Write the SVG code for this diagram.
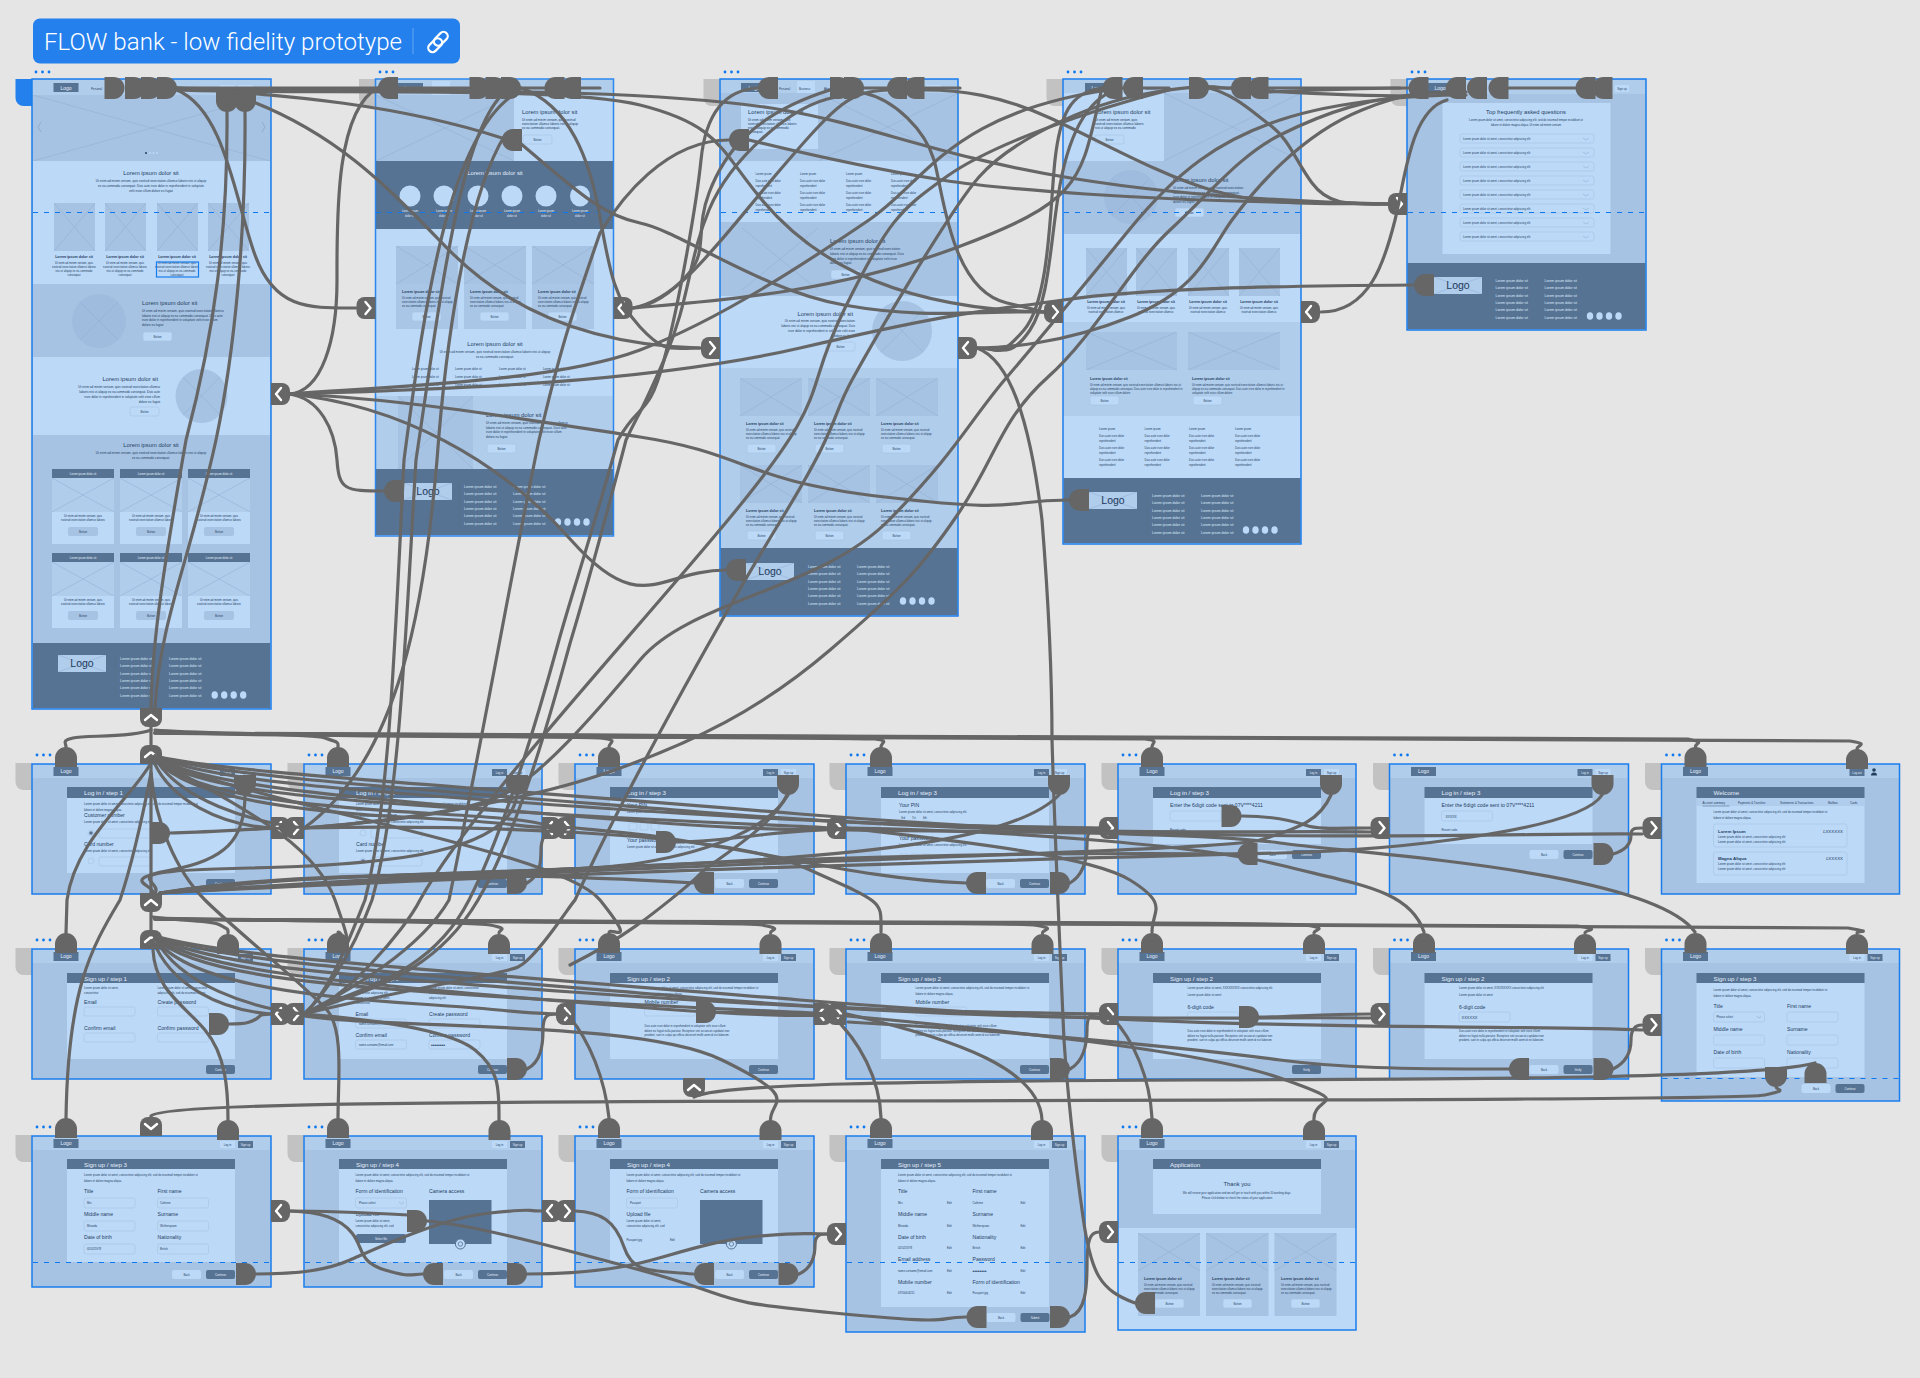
<svg xmlns="http://www.w3.org/2000/svg" width="1920" height="1378" viewBox="0 0 1920 1378">
<style>
text{font-family:"Liberation Sans",Arial,sans-serif;fill:#24405f;font-size:3.1px}
.lt{fill:#bcd9f8}.md{fill:#a7c3e3}.st{fill:#b0cdec}.dk{fill:#577394}.gt{fill:#c2c2c2}
.bd{fill:none;stroke:#1a7ded;stroke-width:1.5}
.ds{fill:none;stroke:#0d78f0;stroke-width:1.2;stroke-dasharray:5 6}
.in{fill:#bcd9f8;stroke:#a7c3e3;stroke-width:.6}
.x{fill:none;stroke:#8fadd0;stroke-width:.5}
.h{font-size:5.8px}.h3{font-size:3.6px;font-weight:bold}.f{font-size:3.4px;fill:#dcebfb}.l{font-size:5.1px}.ti{font-size:6.2px;fill:#e3effc}
.w{fill:#e3effc}.s{font-size:2.8px}.lg{font-size:5px;fill:#e3effc}.lb{font-size:10.5px;fill:#1f3a5c}
.m{text-anchor:middle}.e{text-anchor:end}
.dot{fill:#0d78f0}.ci{fill:#bcd9f8}
.c{fill:none;stroke:#666;stroke-width:3.2;stroke-linecap:round}
.p{fill:#666}.ch{fill:none;stroke:#fff;stroke-width:2.4;stroke-linecap:round;stroke-linejoin:round}
</style>
<defs>
<symbol id="ph" viewBox="0 0 100 100" preserveAspectRatio="none"><rect width="100" height="100" fill="#a7c3e3"/><path d="M0 0L100 100M100 0L0 100" class="x" vector-effect="non-scaling-stroke"/></symbol>
<symbol id="phl" viewBox="0 0 100 100" preserveAspectRatio="none"><rect width="100" height="100" fill="#b0cdec"/><path d="M0 0L100 100M100 0L0 100" class="x" vector-effect="non-scaling-stroke"/></symbol>
<g id="dots"><circle cx="3" r="1.4" class="dot"/><circle cx="9.500" r="1.4" class="dot"/><circle cx="16" r="1.4" class="dot"/></g>
<path id="gtab" d="M0 0H-16.500V19a8 8 0 0 0 8 8H0z" class="gt"/>
<g id="btn"><rect width="29" height="9" rx="2" class="in"/><text x="14.500" y="5.800" class="s m">Button</text></g>
<g id="btd"><rect width="30" height="9" rx="2" fill="#a7c3e3"/><text x="15" y="5.800" class="s m">Button</text></g>
<g id="back"><rect width="29" height="9" rx="2" class="lt"/><text x="14.500" y="5.800" class="s m">Back</text></g>
<g id="cont"><rect width="29" height="9" rx="2" class="dk"/><text x="14.500" y="5.800" class="s m w">Continue</text></g>
<g id="verify"><rect width="29" height="9" rx="2" class="dk"/><text x="14.500" y="5.800" class="s m w">Verify</text></g>
<g id="submit"><rect width="29" height="9" rx="2" class="dk"/><text x="14.500" y="5.800" class="s m w">Submit</text></g>
<g id="bar"><rect width="238" height="14" class="st"/><rect x="21.500" y="3" width="25" height="9" class="dk"/><text x="34" y="9.300" class="lg m">Logo</text></g>
<g id="logDk"><rect x="188" y="5" width="15" height="7" class="dk"/><text x="195.500" y="9.500" class="s m w">Log in</text><rect x="206" y="5" width="15" height="7" class="lt"/><text x="213.500" y="9.500" class="s m">Sign up</text></g>
<g id="sigDk"><rect x="188" y="5" width="15" height="7" class="lt"/><text x="195.500" y="9.500" class="s m">Log in</text><rect x="206" y="5" width="15" height="7" class="dk"/><text x="213.500" y="9.500" class="s m w">Sign up</text></g>
<g id="foot"><text class="f" y="0">Lorem ipsum dolor sit</text><text class="f" y="7.300">Lorem ipsum dolor sit</text><text class="f" y="14.600">Lorem ipsum dolor sit</text><text class="f" y="21.900">Lorem ipsum dolor sit</text><text class="f" y="29.200">Lorem ipsum dolor sit</text><text class="f" y="36.500">Lorem ipsum dolor sit</text><text class="f" x="49" y="0">Lorem ipsum dolor sit</text><text class="f" x="49" y="7.300">Lorem ipsum dolor sit</text><text class="f" x="49" y="14.600">Lorem ipsum dolor sit</text><text class="f" x="49" y="21.900">Lorem ipsum dolor sit</text><text class="f" x="49" y="29.200">Lorem ipsum dolor sit</text><text class="f" x="49" y="36.500">Lorem ipsum dolor sit</text></g>
<g id="soc"><ellipse cx="0" rx="3.200" ry="3.800" class="ci"/><ellipse cx="9.500" rx="3.200" ry="3.800" class="ci"/><ellipse cx="19" rx="3.200" ry="3.800" class="ci"/><ellipse cx="28.500" rx="3.200" ry="3.800" class="ci"/></g>
<g id="logoB"><use href="#phl" width="48" height="17"/><text x="24" y="12.300" class="lb m">Logo</text></g>
<g id="col"><text class="s" font-size="3.400" y="0">Lorem ipsum</text><text class="s" y="7">Duis aute irure dolor</text><text class="s" y="11.500">reprehenderit</text><text class="s" y="19">Duis aute irure dolor</text><text class="s" y="23.500">reprehenderit</text><text class="s" y="31">Duis aute irure dolor</text><text class="s" y="35.500">reprehenderit</text></g>
<g id="smcard"><text class="h3" y="0">Lorem ipsum dolor sit</text><text class="s" y="6">Ut enim ad minim veniam, quis nostrud</text><text class="s" y="10">exercitation ullamco laboris nisi ut aliquip</text><text class="s" y="14">ex ea commodo consequat.</text></g>
<g id="card"><rect width="62" height="75" class="lt"/><rect width="62" height="9" class="dk"/><text x="31" y="6" class="s m w">Lorem ipsum dolor sit</text><use href="#phl" y="9" width="62" height="34"/><text x="31" y="48" class="s m">Ut enim ad minim veniam, quis</text><text x="31" y="52" class="s m">nostrud exercitation ullamco laboris</text><use href="#btd" x="16" y="58"/></g>
<g id="long2"><text class="s" y="0">Lorem ipsum dolor sit amet, consectetur adipiscing elit, sed do eiusmod tempor incididunt ut</text><text class="s" y="5.500">labore et dolore magna aliqua.</text></g>
<g id="r"><path d="M0-11H9a11 11 0 0 1 0 22H0z" class="p"/></g>
<g id="l"><path d="M0-11H-9a11 11 0 0 0 0 22H0z" class="p"/></g>
<g id="u"><path d="M-11 0V-9a11 11 0 0 1 22 0V0z" class="p"/></g>
<g id="d"><path d="M-11 0V9a11 11 0 0 0 22 0V0z" class="p"/></g>
<g id="tr"><path d="M0-11H-11a8 8 0 0 0-8 8V3a8 8 0 0 0 8 8H0z" class="p"/><path d="M-10-6l5 6-5 6" class="ch"/></g>
<g id="tl"><path d="M0-11H11a8 8 0 0 1 8 8V3a8 8 0 0 1-8 8H0z" class="p"/><path d="M10-6l-5 6 5 6" class="ch"/></g>
<g id="tbu"><path d="M-11 0H11V11a8 8 0 0 1-8 8H-3a8 8 0 0 1-8-8z" class="p"/><path d="M-6 12l6-5 6 5" class="ch"/></g>
<g id="tuu"><path d="M-11 0H11V-11a8 8 0 0 0-8-8H-3a8 8 0 0 0-8 8z" class="p"/><path d="M-6-7l6-5 6 5" class="ch"/></g>
<g id="tud"><path d="M-11 0H11V-11a8 8 0 0 0-8-8H-3a8 8 0 0 0-8 8z" class="p"/><path d="M-6-12l6 5 6-5" class="ch"/></g>
</defs>
<rect width="1920" height="1378" fill="#e5e5e5"/>
<g id="title"><rect x="33" y="18.500" width="427" height="45" rx="7" fill="#2480ec"/><text x="44" y="50" style="font-family:Roboto,sans-serif;font-size:23px;fill:#fff;font-weight:300" textLength="358" lengthAdjust="spacingAndGlyphs">FLOW bank - low fidelity prototype</text><path d="M413 28V54" stroke="#fff" stroke-opacity=".3"/><g fill="none" stroke="#fff" stroke-width="2.200"><rect x="427" y="41" width="16" height="8.500" rx="4.200" transform="rotate(-45 435 45)"/><rect x="433" y="34.500" width="16" height="8.500" rx="4.200" transform="rotate(-45 441 39)"/></g></g>

<g id="n-home"><path d="M32 79H15.500V98a8 8 0 0 0 8 8H32z" fill="#2480ec"/><use href="#dots" x="33" y="72"/>
<rect x="32" y="79" width="239" height="630" class="md"/><rect x="32" y="80" width="239" height="15" class="st"/><rect x="53.500" y="83" width="25" height="9" class="dk"/><text x="66" y="89.500" class="lg m">Logo</text><text x="91" y="90" class="s">Personal</text><rect x="220" y="85" width="15" height="7" class="lt"/><rect x="238" y="85" width="15" height="7" class="lt"/>
<use href="#ph" x="33" y="95" width="237" height="66"/><path d="M41 122l-3 5 3 5M262 122l3 5-3 5" fill="none" stroke="#8fadd0"/><circle cx="146" cy="153" r="1" fill="#24405f"/><circle cx="150" cy="153" r="1" class="ci"/><circle cx="153.500" cy="153" r="1" class="ci"/><circle cx="157" cy="153" r="1" class="ci"/>
<rect x="33" y="161" width="237" height="123" class="lt"/><text x="151" y="175" class="h m">Lorem ipsum dolor sit</text><text x="151" y="182" class="m">Ut enim ad minim veniam, quis nostrud exercitation ullamco laboris nisi ut aliquip</text><text x="151" y="186.500" class="m">ex ea commodo consequat. Duis aute irure dolor in reprehenderit in voluptate</text><text x="151" y="192" class="m">velit esse cillum dolore eu fugiat</text>
<use href="#ph" x="54" y="203" width="41" height="48"/><use href="#ph" x="105" y="203" width="41" height="48"/><use href="#ph" x="157" y="203" width="41" height="48"/><use href="#ph" x="208" y="203" width="41" height="48"/>
<text x="74" y="258" class="h3 m">Lorem ipsum dolor sit</text><text x="125" y="258" class="h3 m">Lorem ipsum dolor sit</text><text x="177" y="258" class="h3 m">Lorem ipsum dolor sit</text><text x="228" y="258" class="h3 m">Lorem ipsum dolor sit</text>
<text x="74" y="264" class="s m">Ut enim ad minim veniam, quis</text><text x="74" y="268" class="s m">nostrud exercitation ullamco laboris</text><text x="74" y="272" class="s m">nisi ut aliquip ex ea commodo</text><text x="74" y="276" class="s m">consequat</text>
<text x="125" y="264" class="s m">Ut enim ad minim veniam, quis</text><text x="125" y="268" class="s m">nostrud exercitation ullamco laboris</text><text x="125" y="272" class="s m">nisi ut aliquip ex ea commodo</text><text x="125" y="276" class="s m">consequat</text>
<text x="177" y="264" class="s m">Ut enim ad minim veniam, quis</text><text x="177" y="268" class="s m">nostrud exercitation ullamco laboris</text><text x="177" y="272" class="s m">nisi ut aliquip ex ea commodo</text><text x="177" y="276" class="s m">consequat</text>
<text x="228" y="264" class="s m">Ut enim ad minim veniam, quis</text><text x="228" y="268" class="s m">nostrud exercitation ullamco laboris</text><text x="228" y="272" class="s m">nisi ut aliquip ex ea commodo</text><text x="228" y="276" class="s m">consequat</text>
<rect x="156.500" y="262" width="42" height="15" fill="none" stroke="#1a7ded" stroke-width="1.200"/>
<rect x="33" y="284" width="237" height="73" class="md"/><ellipse cx="99" cy="321" rx="27" ry="27" fill="#9fbbdd"/><path d="M80 302L118 340M118 302L80 340" class="x"/><text x="142" y="305" class="h">Lorem ipsum dolor sit</text><text x="142" y="312">Ut enim ad minim veniam, quis nostrud exercitation ullamco</text><text x="142" y="316.500">laboris nisi ut aliquip ex ea commodo consequat. Duis aute</text><text x="142" y="321">irure dolor in reprehenderit in voluptate velit esse cillum</text><text x="142" y="326">dolore eu fugiat</text><use href="#btn" x="143" y="332"/>
<rect x="33" y="357" width="237" height="78" class="lt"/><text x="158" y="381" class="h e">Lorem ipsum dolor sit</text><text x="160" y="388" class="e">Ut enim ad minim veniam, quis nostrud exercitation ullamco</text><text x="160" y="393" class="e">laboris nisi ut aliquip ex ea commodo consequat. Duis aute</text><text x="160" y="398" class="e">irure dolor in reprehenderit in voluptate velit esse cillum</text><text x="160" y="403" class="e">dolore eu fugiat</text><use href="#btn" x="130" y="407"/><ellipse cx="201.500" cy="396" rx="26" ry="27" fill="#a7c3e3"/><path d="M183 377L220 415M220 377L183 415" class="x"/>
<text x="151" y="447" class="h m">Lorem ipsum dolor sit</text><text x="151" y="454" class="m">Ut enim ad minim veniam, quis nostrud exercitation ullamco laboris nisi ut aliquip</text><text x="151" y="459" class="m">ex ea commodo consequat.</text>
<use href="#card" x="52" y="469"/><use href="#card" x="120" y="469"/><use href="#card" x="188" y="469"/><use href="#card" x="52" y="553"/><use href="#card" x="120" y="553"/><use href="#card" x="188" y="553"/>
<rect x="33" y="643" width="237" height="65" class="dk"/><use href="#logoB" x="58" y="655"/><use href="#foot" x="120" y="660"/><use href="#soc" x="214.700" y="695"/>
<path d="M33 212.500H270" class="ds"/><rect x="32" y="79" width="239" height="630" class="bd"/></g>

<g id="n-personal"><use href="#gtab" x="375.500" y="79"/><use href="#dots" x="377" y="72"/><rect x="375.500" y="79" width="238" height="457" class="lt"/><rect x="376" y="80" width="237" height="15" class="st"/><rect x="398" y="83" width="25" height="9" class="dk"/><text x="410" y="89.500" class="lg m">Logo</text><rect x="432" y="81" width="18" height="14" class="lt"/><text x="434" y="90" class="s">Personal</text><text x="456" y="90" class="s">Business</text>
<use href="#ph" x="376" y="95" width="138" height="66"/><text x="522" y="114" class="h">Lorem ipsum dolor sit</text><text x="522" y="121">Ut enim ad minim veniam, quis nostrud</text><text x="522" y="125">exercitation ullamco laboris nisi ut aliquip</text><text x="522" y="129">ex ea commodo consequat.</text><use href="#btn" x="523" y="135"/>
<rect x="376" y="161" width="237" height="68" class="dk"/><text x="495" y="175" class="h m w">Lorem ipsum dolor sit</text>
<g class="ci"><ellipse cx="410" cy="196" rx="10.500" ry="10.500"/><ellipse cx="444" cy="196" rx="10.500" ry="10.500"/><ellipse cx="478" cy="196" rx="10.500" ry="10.500"/><ellipse cx="512" cy="196" rx="10.500" ry="10.500"/><ellipse cx="546" cy="196" rx="10.500" ry="10.500"/><ellipse cx="580" cy="196" rx="10" ry="10.500"/></g>
<text x="410" y="212" class="s m w">Lorem ipsum</text><text x="410" y="217" class="s m w">dolor sit</text><text x="444" y="212" class="s m w">Lorem ipsum</text><text x="444" y="217" class="s m w">dolor sit</text><text x="478" y="212" class="s m w">Lorem ipsum</text><text x="478" y="217" class="s m w">dolor sit</text><text x="512" y="212" class="s m w">Lorem ipsum</text><text x="512" y="217" class="s m w">dolor sit</text><text x="546" y="212" class="s m w">Lorem ipsum</text><text x="546" y="217" class="s m w">dolor sit</text><text x="580" y="212" class="s m w">Lorem ipsum</text><text x="580" y="217" class="s m w">dolor sit</text>
<rect x="396" y="246" width="62" height="83" class="md" opacity=".9"/><rect x="464" y="246" width="62" height="83" class="md" opacity=".9"/><rect x="532" y="246" width="62" height="83" class="md" opacity=".9"/><use href="#ph" x="396" y="246" width="62" height="38"/><use href="#ph" x="464" y="246" width="62" height="38"/><use href="#ph" x="532" y="246" width="62" height="38"/>
<use href="#smcard" x="402" y="293"/><use href="#smcard" x="470" y="293"/><use href="#smcard" x="538" y="293"/><use href="#btn" x="412" y="312"/><use href="#btn" x="480" y="312"/><use href="#btn" x="548" y="312"/>
<text x="495" y="346" class="h m">Lorem ipsum dolor sit</text><text x="495" y="353" class="m">Ut enim ad minim veniam, quis nostrud exercitation ullamco laboris nisi ut aliquip</text><text x="495" y="358" class="m">ex ea commodo consequat.</text>
<g><text x="412" y="370" class="s">Lorem ipsum dolor sit</text><text x="455" y="370" class="s">Lorem ipsum dolor sit</text><text x="499" y="370" class="s">Lorem ipsum dolor sit</text><text x="543" y="370" class="s">Lorem ipsum dolor sit</text><text x="412" y="378" class="s">Lorem ipsum dolor sit</text><text x="455" y="378" class="s">Lorem ipsum dolor sit</text><text x="499" y="378" class="s">Lorem ipsum dolor sit</text><text x="543" y="378" class="s">Lorem ipsum dolor sit</text><text x="412" y="386" class="s">Lorem ipsum dolor sit</text><text x="455" y="386" class="s">Lorem ipsum dolor sit</text><text x="499" y="386" class="s">Lorem ipsum dolor sit</text><text x="543" y="386" class="s">Lorem ipsum dolor sit</text></g>
<rect x="376" y="396" width="237" height="73" class="st"/><use href="#ph" x="398" y="396" width="75" height="73"/><text x="486" y="417" class="h">Lorem ipsum dolor sit</text><text x="486" y="424">Ut enim ad minim veniam, quis nostrud exercitation ullamco</text><text x="486" y="428.500">laboris nisi ut aliquip ex ea commodo consequat. Duis aute</text><text x="486" y="433">irure dolor in reprehenderit in voluptate velit esse cillum</text><text x="486" y="438">dolore eu fugiat</text><use href="#btn" x="487" y="444"/>
<rect x="376" y="469" width="237" height="66" class="dk"/><use href="#logoB" x="404" y="483"/><use href="#foot" x="464" y="488"/><use href="#soc" x="558" y="522"/>
<path d="M376 212.500H613" class="ds"/><rect x="375.500" y="79" width="238" height="457" class="bd" stroke-opacity=".9"/></g>

<g id="n-business"><use href="#gtab" x="720" y="79"/><use href="#dots" x="722" y="72"/><rect x="720" y="79" width="238" height="537" class="md"/><rect x="720" y="80" width="238" height="13" class="st"/><rect x="741" y="83" width="25" height="9" class="dk"/><text x="754" y="89.500" class="lg m">Logo</text><text x="779" y="90" class="s">Personal</text><rect x="797" y="81" width="18" height="12" class="lt"/><text x="799" y="90" class="s">Business</text><text x="824" y="90" class="s">About</text><rect x="926" y="85" width="15" height="7" class="lt"/><text x="933" y="90" class="s m">Sign up</text>
<use href="#ph" x="818" y="93" width="140" height="68"/><rect x="741" y="104" width="77" height="45" class="lt"/><text x="748" y="114" class="h">Lorem ipsum dolor sit</text><text x="748" y="121">Ut enim ad minim veniam, quis</text><text x="748" y="125">nostrud exercitation ullamco laboris</text><text x="748" y="129">nisi ut aliquip ex ea commodo</text><text x="748" y="133">consequat.</text>
<rect x="720.500" y="161" width="237" height="61" class="lt"/><use href="#col" x="755.500" y="175"/><use href="#col" x="800" y="175"/><use href="#col" x="846" y="175"/><use href="#col" x="891" y="175"/>
<use href="#ph" x="742" y="228" width="76" height="62"/><text x="830" y="243" class="h">Lorem ipsum dolor sit</text><text x="830" y="250">Ut enim ad minim veniam, quis nostrud exercitation</text><text x="830" y="255">laboris nisi ut aliquip ex ea commodo consequat. Duis</text><text x="830" y="260">irure dolor in reprehenderit in voluptate velit esse</text><text x="830" y="264">dolore eu fugiat</text><use href="#btn" x="831" y="270"/>
<rect x="720.500" y="296" width="237" height="72" class="lt"/><text x="853" y="316" class="h e">Lorem ipsum dolor sit</text><text x="855" y="322" class="e">Ut enim ad minim veniam, quis nostrud exercitation</text><text x="855" y="327" class="e">laboris nisi ut aliquip ex ea commodo consequat. Duis</text><text x="855" y="332" class="e">irure dolor in reprehenderit in voluptate velit esse</text><text x="855" y="337" class="e">dolore eu fugiat</text><use href="#btn" x="826" y="342"/><ellipse cx="902" cy="331" rx="30" ry="30" class="md"/><path d="M881 310L923 352M923 310L881 352" class="x"/>
<rect x="720.500" y="368" width="237" height="180" class="st"/><use href="#ph" x="740" y="378" width="62" height="38"/><use href="#ph" x="808" y="378" width="62" height="38"/><use href="#ph" x="876" y="378" width="62" height="38"/><use href="#smcard" x="746" y="425"/><use href="#smcard" x="814" y="425"/><use href="#smcard" x="881" y="425"/><use href="#btn" x="747" y="444"/><use href="#btn" x="815" y="444"/><use href="#btn" x="882" y="444"/>
<use href="#ph" x="740" y="465" width="62" height="38"/><use href="#ph" x="808" y="465" width="62" height="38"/><use href="#ph" x="876" y="465" width="62" height="38"/><use href="#smcard" x="746" y="512"/><use href="#smcard" x="814" y="512"/><use href="#smcard" x="881" y="512"/><use href="#btn" x="747" y="531"/><use href="#btn" x="815" y="531"/><use href="#btn" x="882" y="531"/>
<rect x="720.500" y="548" width="237" height="67" class="dk"/><use href="#logoB" x="746" y="563"/><use href="#foot" x="808" y="568"/><use href="#soc" x="903" y="601"/>
<path d="M721 212.500H957" class="ds"/><rect x="720" y="79" width="238" height="537" class="bd"/></g>

<g id="n-about"><use href="#gtab" x="1063" y="79"/><use href="#dots" x="1065" y="72"/><rect x="1063" y="79" width="238" height="465" class="lt"/><rect x="1063" y="80" width="238" height="13" class="st"/><rect x="1085" y="83" width="25" height="9" class="dk"/><text x="1097" y="89.500" class="lg m">Logo</text><text x="1146" y="90" class="s">Business</text><text x="1167" y="90" class="s">About</text><text x="1265" y="90" class="s">Sign up</text>
<use href="#ph" x="1164" y="93" width="137" height="68"/><text x="1095" y="114" class="h">Lorem ipsum dolor sit</text><text x="1095" y="121">Ut enim ad minim veniam, quis</text><text x="1095" y="125">nostrud exercitation ullamco laboris</text><text x="1095" y="129">nisi ut aliquip ex ea commodo</text><use href="#btn" x="1095" y="135"/>
<rect x="1063.500" y="161" width="237" height="73" class="md"/><ellipse cx="1131" cy="197" rx="27" ry="27" fill="#9fbbdd"/><path d="M1112 178L1150 216M1150 178L1112 216" class="x"/><text x="1173" y="182" class="h">Lorem ipsum dolor sit</text><text x="1173" y="189">Ut enim ad minim veniam, quis nostrud exercitation</text><text x="1173" y="194">laboris nisi ut aliquip ex ea commodo consequat.</text><text x="1173" y="198">irure dolor in reprehenderit in voluptate velit</text><text x="1173" y="203">dolore eu fugiat</text><use href="#btn" x="1175" y="208"/>
<use href="#ph" x="1086" y="248" width="41" height="48"/><use href="#ph" x="1136" y="248" width="41" height="48"/><use href="#ph" x="1188" y="248" width="41" height="48"/><use href="#ph" x="1239" y="248" width="41" height="48"/><text x="1106" y="303" class="h3 m">Lorem ipsum dolor sit</text><text x="1156" y="303" class="h3 m">Lorem ipsum dolor sit</text><text x="1208" y="303" class="h3 m">Lorem ipsum dolor sit</text><text x="1259" y="303" class="h3 m">Lorem ipsum dolor sit</text>
<text x="1106" y="309" class="s m">Ut enim ad minim veniam, quis</text><text x="1106" y="313" class="s m">nostrud exercitation ullamco</text><text x="1156" y="309" class="s m">Ut enim ad minim veniam, quis</text><text x="1156" y="313" class="s m">nostrud exercitation ullamco</text><text x="1208" y="309" class="s m">Ut enim ad minim veniam, quis</text><text x="1208" y="313" class="s m">nostrud exercitation ullamco</text><text x="1259" y="309" class="s m">Ut enim ad minim veniam, quis</text><text x="1259" y="313" class="s m">nostrud exercitation ullamco</text>
<rect x="1063.500" y="322" width="237" height="94" class="st"/><use href="#ph" x="1086" y="332" width="91" height="38"/><use href="#ph" x="1188" y="332" width="92" height="38"/><text x="1090" y="380" class="h3">Lorem ipsum dolor sit</text><text x="1090" y="385.500" class="s">Ut enim ad minim veniam, quis nostrud exercitation ullamco laboris nisi ut</text><text x="1090" y="390" class="s">aliquip ex ea commodo consequat. Duis aute irure dolor in reprehenderit in</text><text x="1090" y="394" class="s">voluptate velit esse cillum dolore</text><use href="#btn" x="1090" y="396"/><text x="1192" y="380" class="h3">Lorem ipsum dolor sit</text><text x="1192" y="385.500" class="s">Ut enim ad minim veniam, quis nostrud exercitation ullamco laboris nisi ut</text><text x="1192" y="390" class="s">aliquip ex ea commodo consequat. Duis aute irure dolor in reprehenderit in</text><text x="1192" y="394" class="s">voluptate velit esse cillum dolore</text><use href="#btn" x="1193" y="396"/>
<use href="#col" x="1099" y="430"/><use href="#col" x="1144.500" y="430"/><use href="#col" x="1189" y="430"/><use href="#col" x="1235" y="430"/>
<rect x="1063.500" y="478" width="237" height="65" class="dk"/><use href="#logoB" x="1089" y="492"/><use href="#foot" x="1152" y="497"/><use href="#soc" x="1246" y="530"/>
<path d="M1064 212.500H1300" class="ds"/><rect x="1063" y="79" width="238" height="465" class="bd"/></g>

<g id="n-help"><use href="#gtab" x="1407" y="79"/><use href="#dots" x="1409" y="72"/><rect x="1407" y="79" width="239" height="251" class="md"/><rect x="1407.500" y="80" width="238" height="14" class="st"/><rect x="1427" y="83" width="25" height="9" class="dk"/><text x="1440" y="89.500" class="lg m">Logo</text><rect x="1615" y="85" width="14" height="7" class="lt"/><text x="1622" y="90" class="s m">Sign up</text>
<rect x="1442.500" y="103" width="168" height="151" class="lt"/><text x="1526" y="114" class="h m">Top frequently asked questions</text><text x="1526" y="121" class="s m">Lorem ipsum dolor sit amet, consectetur adipiscing elit, sed do eiusmod tempor incididunt ut</text><text x="1526" y="126" class="s m">labore et dolore magna aliqua. Ut enim ad minim veniam</text>
<g id="faq"><rect x="1460" y="134" width="134" height="9" rx="2" class="in"/><text x="1463" y="140" class="s">Lorem ipsum dolor sit amet, consectetur adipiscing elit</text><rect x="1460" y="148" width="134" height="9" rx="2" class="in"/><text x="1463" y="154" class="s">Lorem ipsum dolor sit amet, consectetur adipiscing elit</text><rect x="1460" y="162" width="134" height="9" rx="2" class="in"/><text x="1463" y="168" class="s">Lorem ipsum dolor sit amet, consectetur adipiscing elit</text><rect x="1460" y="176" width="134" height="9" rx="2" class="in"/><text x="1463" y="182" class="s">Lorem ipsum dolor sit amet, consectetur adipiscing elit</text><rect x="1460" y="190" width="134" height="9" rx="2" class="in"/><text x="1463" y="196" class="s">Lorem ipsum dolor sit amet, consectetur adipiscing elit</text><rect x="1460" y="204" width="134" height="9" rx="2" class="in"/><text x="1463" y="210" class="s">Lorem ipsum dolor sit amet, consectetur adipiscing elit</text><rect x="1460" y="218" width="134" height="9" rx="2" class="in"/><text x="1463" y="224" class="s">Lorem ipsum dolor sit amet, consectetur adipiscing elit</text><rect x="1460" y="232" width="134" height="9" rx="2" class="in"/><text x="1463" y="238" class="s">Lorem ipsum dolor sit amet, consectetur adipiscing elit</text><path d="M1583 138l3 2 3-2M1583 152l3 2 3-2M1583 166l3 2 3-2M1583 180l3 2 3-2M1583 194l3 2 3-2M1583 208l3 2 3-2M1583 222l3 2 3-2M1583 236l3 2 3-2" fill="none" stroke="#8fadd0" stroke-width=".6"/></g>
<rect x="1407.500" y="263" width="238" height="66" class="dk"/><use href="#logoB" x="1434" y="277"/><use href="#foot" x="1495.500" y="282"/><use href="#soc" x="1590" y="316"/>
<path d="M1408 212.500H1645" class="ds"/><rect x="1407" y="79" width="239" height="251" class="bd"/></g>

<g id="n-login1" transform="translate(32 764)"><use href="#gtab" y="-1"/><use href="#dots" x="2" y="-9"/><rect width="239" height="130" class="md"/><use href="#bar"/><use href="#logDk"/><rect x="35" y="34" width="168" height="75" class="lt"/><rect x="35" y="23" width="168" height="11" class="dk"/><text x="52" y="31" class="ti">Log in / step 1</text><use href="#long2" x="52" y="41"/><text x="52" y="53" class="l">Customer number</text><text x="52" y="59" class="s">Lorem ipsum dolor sit amet, consectetur adipiscing elit.</text><circle cx="59" cy="69" r="3" class="in"/><circle cx="59" cy="69" r="1.800" fill="#577394"/><rect x="67" y="65" width="51" height="9" rx="2" class="in"/><text x="52" y="82" class="l">Card number</text><text x="52" y="88" class="s">Lorem ipsum dolor sit amet, consectetur adipiscing elit.</text><circle cx="59" cy="97" r="3" class="in"/><rect x="67" y="93" width="51" height="9" rx="2" class="in"/><use href="#cont" x="174" y="115"/><rect width="239" height="130" class="bd"/></g>

<g id="n-login2" transform="translate(304 764)"><use href="#gtab" y="-1"/><use href="#dots" x="2" y="-9"/><rect width="238" height="130" class="md"/><use href="#bar"/><use href="#logDk"/><rect x="35" y="34" width="168" height="75" class="lt"/><rect x="35" y="23" width="168" height="11" class="dk"/><text x="52" y="31" class="ti">Log in / step 1</text><use href="#long2" x="52" y="41"/><text x="52" y="53" class="l">Customer number</text><text x="52" y="59" class="s">Lorem ipsum dolor sit amet, consectetur adipiscing elit.</text><circle cx="59" cy="69" r="3" class="in"/><rect x="67" y="65" width="51" height="9" rx="2" class="in"/><text x="52" y="82" class="l">Card number</text><text x="52" y="88" class="s">Lorem ipsum dolor sit amet, consectetur adipiscing elit.</text><circle cx="59" cy="97" r="3" class="in"/><circle cx="59" cy="97" r="1.800" fill="#577394"/><rect x="67" y="93" width="51" height="9" rx="2" class="in"/><use href="#cont" x="174" y="115"/><rect width="238" height="130" class="bd"/></g>

<g id="n-login3a" transform="translate(575 764)"><use href="#gtab" y="-1"/><use href="#dots" x="2" y="-9"/><rect width="239" height="130" class="md"/><use href="#bar"/><use href="#logDk"/><rect x="35" y="34" width="168" height="75" class="lt"/><rect x="35" y="23" width="168" height="11" class="dk"/><text x="52" y="31" class="ti">Log in / step 3</text><text x="52" y="43" class="l">Your PIN</text><text x="52" y="49" class="s">Lorem ipsum dolor sit amet, consectetur adipiscing elit.</text><rect x="54" y="59" width="8" height="7" rx="1" class="in"/><rect x="65" y="59" width="8" height="7" rx="1" class="in"/><rect x="76" y="59" width="8" height="7" rx="1" class="in"/><text x="52" y="78" class="l">Your password</text><text x="52" y="84" class="s">Lorem ipsum dolor sit amet, consectetur adipiscing elit.</text><use href="#back" x="140" y="115"/><use href="#cont" x="174" y="115"/><rect width="239" height="130" class="bd"/></g>

<g id="n-login3b" transform="translate(846 764)"><use href="#gtab" y="-1"/><use href="#dots" x="2" y="-9"/><rect width="239" height="130" class="md"/><use href="#bar"/><use href="#logDk"/><rect x="35" y="34" width="168" height="75" class="lt"/><rect x="35" y="23" width="168" height="11" class="dk"/><text x="52" y="31" class="ti">Log in / step 3</text><text x="53" y="43" class="l">Your PIN</text><text x="53" y="49" class="s">Lorem ipsum dolor sit amet, consectetur adipiscing elit.</text><text x="55" y="55" class="s">3rd</text><text x="66" y="55" class="s">7st</text><text x="77" y="55" class="s">6th</text><rect x="54" y="57" width="8" height="7" rx="1" class="in"/><rect x="65" y="57" width="8" height="7" rx="1" class="in"/><rect x="76" y="57" width="8" height="7" rx="1" class="in"/><text x="53" y="76" class="l">Your password</text><text x="53" y="82" class="s">Lorem ipsum dolor sit amet, consectetur adipiscing elit.</text><rect x="54" y="90" width="8" height="7" rx="1" class="in"/><rect x="65" y="90" width="8" height="7" rx="1" class="in"/><rect x="76" y="90" width="8" height="7" rx="1" class="in"/><use href="#back" x="140" y="115"/><use href="#cont" x="174" y="115"/><rect width="239" height="130" class="bd"/></g>

<g id="n-login4a" transform="translate(1118 764)"><use href="#gtab" y="-1"/><use href="#dots" x="2" y="-9"/><rect width="238" height="130" class="md"/><use href="#bar"/><use href="#logDk"/><rect x="35" y="34" width="168" height="46" class="lt"/><rect x="35" y="23" width="168" height="11" class="dk"/><text x="52" y="31" class="ti">Log in / step 3</text><text x="52" y="43" class="l">Enter the 6digit code sent to 07V****4211</text><rect x="52" y="47" width="51" height="10" rx="2" class="in"/><text x="52" y="67" class="s">Resent code</text><use href="#back" x="140" y="86"/><use href="#cont" x="174" y="86"/><rect width="238" height="130" class="bd"/></g>

<g id="n-login4b" transform="translate(1389.500 764)"><use href="#gtab" y="-1"/><use href="#dots" x="2" y="-9"/><rect width="239" height="130" class="md"/><use href="#bar"/><use href="#logDk"/><rect x="35" y="34" width="168" height="46" class="lt"/><rect x="35" y="23" width="168" height="11" class="dk"/><text x="52" y="31" class="ti">Log in / step 3</text><text x="52" y="43" class="l">Enter the 6digit code sent to 07V****4211</text><rect x="52" y="47" width="51" height="10" rx="2" class="in"/><text x="56" y="53.500" class="s">XXXXXX</text><text x="52" y="67" class="s">Resent code</text><use href="#back" x="140" y="86"/><use href="#cont" x="174" y="86"/><rect width="239" height="130" class="bd"/></g>

<g id="n-welcome" transform="translate(1661.500 764)"><use href="#gtab" y="-1"/><use href="#dots" x="2" y="-9"/><rect width="238" height="130" class="md"/><use href="#bar"/><rect x="188" y="5" width="15" height="7" class="dk"/><text x="195.500" y="9.500" class="s m w">Log out</text><circle cx="212.500" cy="6" r="1.800" fill="#24405f"/><path d="M209.500 11.500a3 3 0 0 1 6 0z" fill="#24405f"/><rect x="35" y="34" width="168" height="85" class="lt"/><rect x="35" y="23" width="168" height="11" class="dk"/><text x="52" y="31" class="ti">Welcome</text><rect x="35" y="34" width="168" height="8" class="md" opacity=".55"/><text x="41" y="40" class="s">Account summary</text><text x="76.500" y="40" class="s">Payments &amp; Transfers</text><text x="118.500" y="40" class="s">Statements &amp; Transactions</text><text x="166.500" y="40" class="s">Mailbox</text><text x="188.500" y="40" class="s">Cards</text><path d="M41 42H68" stroke="#577394" stroke-width=".6"/><use href="#long2" x="52" y="49"/><rect x="52" y="60" width="133.500" height="23" rx="2" class="in"/><text x="56.500" y="68.500" class="l" font-weight="bold" style="font-size:4.400px">Lorem Ipsum</text><text x="181.500" y="68.500" class="e" style="font-size:4.400px">£XXXXXX</text><text x="56.500" y="73.500" class="s">Lorem ipsum dolor sit amet, consectetur adipiscing elit</text><text x="56.500" y="78.500" class="s">Lorem ipsum dolor sit amet, consectetur adipiscing elit</text><rect x="52" y="88" width="133.500" height="23" rx="2" class="in"/><text x="56.500" y="95.500" class="l" style="font-size:4.400px;font-weight:bold">Magna Aliqua</text><text x="181.500" y="95.500" class="e" style="font-size:4.400px">£XXXXX</text><text x="56.500" y="100.500" class="s">Lorem ipsum dolor sit amet, consectetur adipiscing elit</text><text x="56.500" y="105.500" class="s">Lorem ipsum dolor sit amet, consectetur adipiscing elit</text><rect width="238" height="130" class="bd"/></g>

<g id="n-signup1a" transform="translate(32 949)"><use href="#gtab" y="-1"/><use href="#dots" x="2" y="-9"/><rect width="239" height="130" class="md"/><use href="#bar"/><use href="#sigDk"/><rect x="35" y="34" width="168" height="76" class="lt"/><rect x="35" y="24" width="168" height="10" class="dk"/><text x="52" y="31.500" class="ti">Sign up / step 1</text><text x="52" y="40" class="s">Lorem ipsum dolor sit amet,</text><text x="52" y="45" class="s">consectetur</text><text x="125.500" y="40" class="s">Lorem ipsum dolor sit amet, consectetur</text><text x="125.500" y="45" class="s">adipiscing elit, sed do eiusmod tempor</text><text x="52" y="55" class="l">Email</text><rect x="52" y="58" width="51" height="9" rx="2" class="in"/><text x="125.500" y="55" class="l">Create password</text><rect x="125.500" y="58" width="51" height="9" rx="2" class="in"/><text x="52" y="81" class="l">Confirm email</text><rect x="52" y="84" width="51" height="9" rx="2" class="in"/><text x="125.500" y="81" class="l">Confirm password</text><rect x="125.500" y="84" width="51" height="9" rx="2" class="in"/><use href="#cont" x="174" y="116"/><rect width="239" height="130" class="bd"/></g>

<g id="n-signup1b" transform="translate(304 949)"><use href="#gtab" y="-1"/><use href="#dots" x="2" y="-9"/><rect width="238" height="130" class="md"/><use href="#bar"/><use href="#sigDk"/><rect x="35" y="34" width="168" height="76" class="lt"/><rect x="35" y="24" width="168" height="10" class="dk"/><text x="52" y="31.500" class="ti">Sign up / step 1</text><text x="51.500" y="40" class="s">Lorem ipsum dolor sit amet,</text><text x="51.500" y="45" class="s">consectetur adipiscing elit</text><text x="51.500" y="50" class="s">Lorem ipsum dolor sit amet,</text><text x="51.500" y="55" class="s">consectetur</text><text x="125" y="40" class="s">Lorem ipsum dolor sit amet, consectetur</text><text x="125" y="45" class="s">dolor sit amet, consectetur</text><text x="125" y="50" class="s">adipiscing elit</text><text x="51.500" y="67" class="l">Email</text><rect x="51.500" y="70" width="51" height="9" rx="2" class="in"/><text x="55" y="76" class="s">name.surname@email.com</text><text x="125" y="67" class="l">Create password</text><rect x="125" y="70" width="51" height="9" rx="2" class="in"/><text x="127" y="76.500" class="s" style="font-size:5px">••••••••</text><text x="51.500" y="88" class="l">Confirm email</text><rect x="51.500" y="91" width="51" height="9" rx="2" class="in"/><text x="55" y="97" class="s">name.surname@email.com</text><text x="125" y="88" class="l">Confirm password</text><rect x="125" y="91" width="51" height="9" rx="2" class="in"/><text x="127" y="97.500" class="s" style="font-size:5px">••••••••</text><use href="#cont" x="174" y="116"/><rect width="238" height="130" class="bd"/></g>

<g id="n-signup2a" transform="translate(575 949)"><use href="#gtab" y="-1"/><use href="#dots" x="2" y="-9"/><rect width="239" height="130" class="md"/><use href="#bar"/><use href="#sigDk"/><rect x="35" y="34" width="168" height="76" class="lt"/><rect x="35" y="24" width="168" height="10" class="dk"/><text x="52" y="31.500" class="ti">Sign up / step 2</text><use href="#long2" x="69.500" y="40"/><text x="69.500" y="55" class="l">Mobile number</text><rect x="69.500" y="58" width="51" height="9" rx="2" class="in"/><text x="69.500" y="78" class="s">Duis aute irure dolor in reprehenderit in voluptate velit esse cillum</text><text x="69.500" y="82.500" class="s">dolore eu fugiat nulla pariatur. Excepteur sint occaecat cupidatat non</text><text x="69.500" y="87" class="s">proident, sunt in culpa qui officia deserunt mollit anim id est laborum.</text><use href="#cont" x="174" y="116"/><rect width="239" height="130" class="bd"/></g>

<g id="n-signup2b" transform="translate(846 949)"><use href="#gtab" y="-1"/><use href="#dots" x="2" y="-9"/><rect width="239" height="130" class="md"/><use href="#bar"/><use href="#sigDk"/><rect x="35" y="34" width="168" height="76" class="lt"/><rect x="35" y="24" width="168" height="10" class="dk"/><text x="52" y="31.500" class="ti">Sign up / step 2</text><use href="#long2" x="69.500" y="40"/><text x="69.500" y="55" class="l">Mobile number</text><rect x="69.500" y="58" width="51" height="9" rx="2" class="in"/><text x="72" y="64" style="font-size:4px">XXXXXXXXX</text><text x="69.500" y="78" class="s">Duis aute irure dolor in reprehenderit in voluptate velit esse cillum</text><text x="69.500" y="82.500" class="s">dolore eu fugiat nulla pariatur. Excepteur sint occaecat cupidatat non</text><text x="69.500" y="87" class="s">proident, sunt in culpa qui officia deserunt mollit anim id est laborum.</text><use href="#cont" x="174" y="116"/><rect width="239" height="130" class="bd"/></g>

<g id="n-signup3a" transform="translate(1118 949)"><use href="#gtab" y="-1"/><use href="#dots" x="2" y="-9"/><rect width="238" height="130" class="md"/><use href="#bar"/><use href="#sigDk"/><rect x="35" y="34" width="168" height="76" class="lt"/><rect x="35" y="24" width="168" height="10" class="dk"/><text x="52" y="31.500" class="ti">Sign up / step 2</text><text x="69.500" y="40" class="s">Lorem ipsum dolor sit amet, XXXXXXXXX consectetur adipiscing elit</text><text x="69.500" y="47" class="s">Lorem ipsum dolor sit amet</text><text x="69.500" y="60" class="l">6-digit code</text><rect x="69.500" y="63" width="51" height="10" rx="2" class="in"/><text x="69.500" y="83" class="s">Duis aute irure dolor in reprehenderit in voluptate velit esse cillum</text><text x="69.500" y="87.500" class="s">dolore eu fugiat nulla pariatur. Excepteur sint occaecat cupidatat non</text><text x="69.500" y="92" class="s">proident, sunt in culpa qui officia deserunt mollit anim id est laborum.</text><use href="#verify" x="174" y="116"/><rect width="238" height="130" class="bd"/></g>

<g id="n-signup3b" transform="translate(1389.500 949)"><use href="#gtab" y="-1"/><use href="#dots" x="2" y="-9"/><rect width="239" height="130" class="md"/><use href="#bar"/><use href="#sigDk"/><rect x="35" y="34" width="168" height="76" class="lt"/><rect x="35" y="24" width="168" height="10" class="dk"/><text x="52" y="31.500" class="ti">Sign up / step 2</text><text x="69.500" y="40" class="s">Lorem ipsum dolor sit amet, XXXXXXXXX consectetur adipiscing elit</text><text x="69.500" y="47" class="s">Lorem ipsum dolor sit amet</text><text x="69.500" y="60" class="l">6-digit code</text><rect x="69.500" y="63" width="51" height="10" rx="2" class="in"/><text x="72" y="69.500" style="font-size:4px">XXXXXX</text><text x="69.500" y="83" class="s">Duis aute irure dolor in reprehenderit in voluptate velit esse cillum</text><text x="69.500" y="87.500" class="s">dolore eu fugiat nulla pariatur. Excepteur sint occaecat cupidatat non</text><text x="69.500" y="92" class="s">proident, sunt in culpa qui officia deserunt mollit anim id est laborum.</text><use href="#back" x="140" y="116"/><use href="#verify" x="174" y="116"/><rect width="239" height="130" class="bd"/></g>

<g id="n-signup3c" transform="translate(1661.500 949)"><use href="#gtab" y="-1"/><use href="#dots" x="2" y="-9"/><rect width="238" height="152" class="md"/><use href="#bar"/><use href="#sigDk"/><rect x="35" y="34" width="168" height="94" class="lt"/><rect x="35" y="24" width="168" height="10" class="dk"/><text x="52" y="31.500" class="ti">Sign up / step 3</text><use href="#long2" x="52" y="42"/><text x="52" y="59" class="l">Title</text><rect x="52" y="63" width="51" height="10" rx="2" class="in"/><text x="55" y="69" class="s">Please select</text><path d="M95 67l2.500 2 2.500-2" fill="none" stroke="#8fadd0" stroke-width=".6"/><text x="125.500" y="59" class="l">First name</text><rect x="125.500" y="63" width="51" height="10" rx="2" class="in"/><text x="52" y="82" class="l">Middle name</text><rect x="52" y="86" width="51" height="10" rx="2" class="in"/><text x="125.500" y="82" class="l">Surname</text><rect x="125.500" y="86" width="51" height="10" rx="2" class="in"/><text x="52" y="105" class="l">Date of birth</text><rect x="52" y="109" width="51" height="10" rx="2" class="in"/><text x="125.500" y="105" class="l">Nationality</text><rect x="125.500" y="109" width="51" height="10" rx="2" class="in"/><use href="#back" x="140" y="135"/><use href="#cont" x="174" y="135"/><path d="M1 129.500H237" class="ds"/><rect width="238" height="152" class="bd"/></g>

<g id="n-signup3d" transform="translate(32 1136)"><use href="#gtab" y="-1"/><use href="#dots" x="2" y="-9"/><rect width="239" height="151" class="md"/><use href="#bar"/><use href="#sigDk"/><rect x="35" y="33" width="168" height="93" class="lt"/><rect x="35" y="23" width="168" height="10" class="dk"/><text x="52" y="30.500" class="ti">Sign up / step 3</text><use href="#long2" x="52" y="40"/><text x="52" y="57" class="l">Title</text><rect x="52" y="62" width="51" height="10" rx="2" class="in"/><text x="55" y="68" class="s">Mrs</text><text x="125.500" y="57" class="l">First name</text><rect x="125.500" y="62" width="51" height="10" rx="2" class="in"/><text x="128" y="68" class="s">Cathrine</text><text x="52" y="80" class="l">Middle name</text><rect x="52" y="85" width="51" height="10" rx="2" class="in"/><text x="55" y="91" class="s">Miranda</text><text x="125.500" y="80" class="l">Surname</text><rect x="125.500" y="85" width="51" height="10" rx="2" class="in"/><text x="128" y="91" class="s">Wetherspoon</text><text x="52" y="103" class="l">Date of birth</text><rect x="52" y="108" width="51" height="10" rx="2" class="in"/><text x="55" y="114" class="s">02/02/1978</text><text x="125.500" y="103" class="l">Nationality</text><rect x="125.500" y="108" width="51" height="10" rx="2" class="in"/><text x="128" y="114" class="s">British</text><use href="#back" x="140" y="134"/><use href="#cont" x="174" y="134"/><path d="M1 126.500H238" class="ds"/><rect width="239" height="151" class="bd"/></g>

<g id="n-signup4a" transform="translate(304 1136)"><use href="#gtab" y="-1"/><use href="#dots" x="2" y="-9"/><rect width="238" height="151" class="md"/><use href="#bar"/><use href="#sigDk"/><rect x="35" y="33" width="168" height="93" class="lt"/><rect x="35" y="23" width="168" height="10" class="dk"/><text x="52" y="30.500" class="ti">Sign up / step 4</text><use href="#long2" x="51.500" y="40"/><text x="51.500" y="57" class="l">Form of identification</text><rect x="51.500" y="62" width="51" height="10" rx="2" class="in"/><text x="55" y="68" class="s">Please select</text><path d="M95 66l2.500 2 2.500-2" fill="none" stroke="#8fadd0" stroke-width=".6"/><text x="51.500" y="80" class="l">Upload file</text><text x="51.500" y="86" class="s">Lorem ipsum dolor sit amet,</text><text x="51.500" y="91" class="s">consectetur adipiscing elit, sed</text><rect x="52" y="98" width="50" height="9" rx="2" class="dk"/><text x="77" y="104" class="s m w">Select file</text><text x="125" y="57" class="l">Camera access</text><rect x="125" y="64" width="62.500" height="44" class="dk"/><circle cx="156.400" cy="108" r="5" class="lt" stroke="#577394"/><circle cx="156.400" cy="108" r="2.200" fill="none" stroke="#577394" stroke-width=".8"/><use href="#back" x="140" y="134"/><use href="#cont" x="174" y="134"/><path d="M1 126.500H237" class="ds"/><rect width="238" height="151" class="bd"/></g>

<g id="n-signup4b" transform="translate(575 1136)"><use href="#gtab" y="-1"/><use href="#dots" x="2" y="-9"/><rect width="239" height="151" class="md"/><use href="#bar"/><use href="#sigDk"/><rect x="35" y="33" width="168" height="93" class="lt"/><rect x="35" y="23" width="168" height="10" class="dk"/><text x="52" y="30.500" class="ti">Sign up / step 4</text><use href="#long2" x="51.500" y="40"/><text x="51.500" y="57" class="l">Form of identification</text><rect x="51.500" y="62" width="51" height="10" rx="2" class="in"/><text x="55" y="68" class="s">Passport</text><text x="51.500" y="80" class="l">Upload file</text><text x="51.500" y="86" class="s">Lorem ipsum dolor sit amet,</text><text x="51.500" y="91" class="s">consectetur adipiscing elit, sed</text><text x="51.500" y="105" class="s">Passport.jpg</text><text x="95" y="105" class="s">Edit</text><text x="125" y="57" class="l">Camera access</text><rect x="125" y="64" width="62.500" height="44" class="dk"/><circle cx="156.400" cy="108" r="5" class="lt" stroke="#577394"/><circle cx="156.400" cy="108" r="2.200" fill="none" stroke="#577394" stroke-width=".8"/><use href="#back" x="140" y="134"/><use href="#cont" x="174" y="134"/><path d="M1 126.500H238" class="ds"/><rect width="239" height="151" class="bd"/></g>

<g id="n-signup5" transform="translate(846 1136)"><use href="#gtab" y="-1"/><use href="#dots" x="2" y="-9"/><rect width="239" height="196" class="md"/><use href="#bar"/><use href="#sigDk"/><rect x="35" y="33" width="168" height="138" class="lt"/><rect x="35" y="23" width="168" height="10" class="dk"/><text x="52" y="30.500" class="ti">Sign up / step 5</text><use href="#long2" x="52" y="40"/>
<text x="52" y="57" class="l">Title</text><text x="52" y="68" class="s">Mrs</text><text x="101" y="68" class="s">Edit</text><text x="126.500" y="57" class="l">First name</text><text x="126.500" y="68" class="s">Cathrine</text><text x="174.500" y="68" class="s">Edit</text>
<text x="52" y="80" class="l">Middle name</text><text x="52" y="91" class="s">Miranda</text><text x="101" y="91" class="s">Edit</text><text x="126.500" y="80" class="l">Surname</text><text x="126.500" y="91" class="s">Wetherspoon</text><text x="174.500" y="91" class="s">Edit</text>
<text x="52" y="103" class="l">Date of birth</text><text x="52" y="113" class="s">02/02/1978</text><text x="101" y="113" class="s">Edit</text><text x="126.500" y="103" class="l">Nationality</text><text x="126.500" y="113" class="s">British</text><text x="174.500" y="113" class="s">Edit</text>
<text x="52" y="125" class="l">Email address</text><text x="52" y="136" class="s">name.surname@email.com</text><text x="101" y="136" class="s">Edit</text><text x="126.500" y="125" class="l">Password</text><text x="126.500" y="137" style="font-size:5px">••••••••</text><text x="174.500" y="136" class="s">Edit</text>
<text x="52" y="148" class="l">Mobile number</text><text x="52" y="158" class="s">07V000/4211</text><text x="101" y="158" class="s">Edit</text><text x="126.500" y="148" class="l">Form of identification</text><text x="126.500" y="158" class="s">Passport.jpg</text><text x="174.500" y="158" class="s">Edit</text>
<use href="#back" x="140.500" y="177"/><use href="#submit" x="174.500" y="177"/><path d="M1 126.500H238" class="ds"/><rect width="239" height="196" class="bd"/></g>

<g id="n-application" transform="translate(1118 1136)"><use href="#gtab" y="-1"/><use href="#dots" x="2" y="-9"/><rect width="238" height="194" class="lt"/><rect y="14" width="238" height="78" class="md"/><use href="#bar"/><use href="#sigDk"/><rect x="35" y="33" width="168" height="45" class="lt"/><rect x="35" y="23" width="168" height="10" class="dk"/><text x="52" y="30.500" class="ti">Application</text><text x="119" y="50" class="h m">Thank you</text><text x="119" y="58" class="s m">We will review your application and we will get in touch with you within 10 working days.</text><text x="119" y="63" class="s m">Please click below to check the status of your application</text>
<rect x="20" y="97" width="62" height="83" class="md"/><rect x="88" y="97" width="62.500" height="83" class="md"/><rect x="156.500" y="97" width="62" height="83" class="md"/><use href="#ph" x="20" y="97" width="62" height="38"/><use href="#ph" x="88" y="97" width="62.500" height="38"/><use href="#ph" x="156.500" y="97" width="62" height="38"/><use href="#smcard" x="26" y="144"/><use href="#smcard" x="94" y="144"/><use href="#smcard" x="163" y="144"/><use href="#btn" x="37" y="163"/><use href="#btn" x="105" y="163"/><use href="#btn" x="173" y="163"/><path d="M1 126.500H237" class="ds"/><rect width="238" height="194" class="bd"/></g>

<g id="hotspots">
<use href="#tr" x="375.500" y="308"/><use href="#tr" x="720" y="348"/><use href="#tr" x="1063" y="312"/><use href="#tr" x="1407" y="204"/>
<use href="#tl" x="271" y="394"/><use href="#tl" x="613.500" y="308"/><use href="#tl" x="958" y="348"/><use href="#tl" x="1301" y="312"/>
<use href="#tl" x="271" y="828"/><use href="#tr" x="304" y="828"/><use href="#tl" x="542" y="828"/><use href="#tr" x="575" y="828"/><use href="#tr" x="846" y="828"/><use href="#tr" x="1118" y="828"/><use href="#tr" x="1389.500" y="828"/><use href="#tr" x="1661.500" y="828"/>
<use href="#tl" x="271" y="1014"/><use href="#tr" x="304" y="1014"/><use href="#tr" x="575" y="1014"/><use href="#tl" x="813.500" y="1014"/><use href="#tr" x="846" y="1014"/><use href="#tr" x="1118" y="1014"/><use href="#tr" x="1389.500" y="1014"/><use href="#tr" x="1661.500" y="1025"/>
<use href="#tl" x="271" y="1211"/><use href="#tl" x="542" y="1211"/><use href="#tr" x="575" y="1211"/><use href="#tr" x="846" y="1234"/><use href="#tr" x="1118" y="1232"/>
<use href="#tbu" x="151" y="708"/><use href="#tuu" x="151" y="764"/><use href="#tbu" x="151" y="893"/><use href="#tuu" x="151" y="949"/><use href="#tud" x="151" y="1136"/><use href="#tbu" x="694" y="1078"/>
<use href="#r" x="104.500" y="88"/><use href="#r" x="125" y="88"/><use href="#r" x="141" y="88"/><use href="#r" x="157" y="88"/><use href="#d" x="227" y="92"/><use href="#d" x="245" y="92"/>
<use href="#l" x="398" y="88"/><use href="#r" x="469.500" y="88"/><use href="#r" x="485.500" y="88"/><use href="#r" x="501" y="88"/><use href="#l" x="564.500" y="88"/><use href="#l" x="581" y="88"/><use href="#l" x="522" y="140"/><use href="#l" x="404" y="491"/>
<use href="#l" x="778" y="88"/><use href="#r" x="830" y="88"/><use href="#r" x="844" y="88"/><use href="#l" x="907" y="88"/><use href="#l" x="924.500" y="88"/><use href="#l" x="749" y="140"/><use href="#l" x="746" y="570"/>
<use href="#l" x="1122.500" y="88"/><use href="#l" x="1143" y="88"/><use href="#r" x="1189" y="88"/><use href="#l" x="1251" y="88"/><use href="#l" x="1268.500" y="88"/><use href="#l" x="1089" y="500"/>
<use href="#l" x="1428.500" y="88"/><use href="#l" x="1466" y="88"/><use href="#l" x="1487" y="88"/><use href="#l" x="1508.500" y="88"/><use href="#l" x="1595.500" y="88"/><use href="#l" x="1612.500" y="88"/><use href="#l" x="1434" y="285"/>
<use href="#u" x="66" y="767"/><use href="#u" x="338" y="767"/><use href="#u" x="609" y="767"/><use href="#u" x="881" y="767"/><use href="#u" x="1152" y="767"/><use href="#u" x="1695.500" y="767"/><use href="#u" x="1857" y="769"/>
<use href="#d" x="245" y="775"/><use href="#d" x="517" y="775"/><use href="#d" x="788" y="775"/><use href="#d" x="1059" y="775"/><use href="#d" x="1331" y="775"/><use href="#d" x="1602.500" y="775"/>
<use href="#r" x="150" y="833"/><use href="#r" x="507" y="883"/><use href="#r" x="656" y="842"/><use href="#l" x="714" y="883"/><use href="#l" x="986" y="883"/><use href="#r" x="1050" y="883"/><use href="#r" x="1221.500" y="816"/><use href="#l" x="1257.500" y="854"/><use href="#r" x="1593.500" y="854"/>
<use href="#u" x="66" y="953"/><use href="#u" x="228" y="954"/><use href="#u" x="338" y="953"/><use href="#u" x="499" y="954"/><use href="#u" x="609" y="953"/><use href="#u" x="770.500" y="954"/><use href="#u" x="881" y="953"/><use href="#u" x="1042.500" y="954"/><use href="#u" x="1152" y="953"/><use href="#u" x="1314" y="954"/><use href="#u" x="1424" y="953"/><use href="#u" x="1585" y="954"/><use href="#u" x="1695.500" y="953"/><use href="#u" x="1857" y="954"/>
<use href="#r" x="209" y="1024"/><use href="#r" x="507" y="1069"/><use href="#r" x="696" y="1012"/><use href="#r" x="1050" y="1069"/><use href="#r" x="1239" y="1017"/><use href="#l" x="1529" y="1069"/><use href="#r" x="1593.500" y="1069"/><use href="#d" x="1776" y="1067"/><use href="#u" x="1815.500" y="1083"/>
<use href="#u" x="66" y="1138"/><use href="#u" x="228" y="1140"/><use href="#u" x="338" y="1138"/><use href="#u" x="499.500" y="1140"/><use href="#u" x="609" y="1138"/><use href="#u" x="770.500" y="1140"/><use href="#u" x="881" y="1138"/><use href="#u" x="1042" y="1140"/><use href="#u" x="1152" y="1138"/><use href="#u" x="1314" y="1140"/>
<use href="#r" x="236" y="1274"/><use href="#r" x="407" y="1221"/><use href="#l" x="443" y="1274"/><use href="#r" x="507" y="1274"/><use href="#l" x="714" y="1274"/><use href="#r" x="778.500" y="1274"/><use href="#l" x="986.500" y="1317"/><use href="#r" x="1050" y="1317"/><use href="#l" x="1155" y="1303"/>
</g>

<g id="connectors" class="c">
<path d="M177 90C225 110 235 200 255 255S310 308 356 308"/>
<path d="M248 100C340 135 390 190 449 250S590 345 700 348"/>
<path d="M177 88C350 92 640 85 783 110S1000 195 1388 204"/>
<path d="M177 90C300 95 560 85 640 105S720 150 762 200S880 308 1044 312"/>
<path d="M177 88C290 95 400 105 502 138"/>
<path d="M520 143C570 185 600 215 640 223S760 290 844 305S980 310 1044 312"/>
<path d="M289 394C420 390 640 385 800 348S980 312 1063 300S1280 286 1414 285"/>
<path d="M289 394C400 398 530 420 640 437S740 480 885 497S1000 500 1069 500"/>
<path d="M289 394C320 398 335 430 337 460S345 491 384 491"/>
<path d="M289 394C322 392 337 340 337 280S335 110 378 88"/>
<path d="M289 394C400 405 500 460 571 540S660 570 726 570"/>
<path d="M289 394C420 385 560 380 640 350S810 260 869 220S950 110 1122 88"/>
<path d="M521 88C570 105 590 160 600 217S615 300 640 327S670 348 700 348"/>
<path d="M633 308C680 300 720 240 780 170S850 92 888 90"/>
<path d="M633 308C700 302 830 295 958 247S1080 180 1102 88"/>
<path d="M633 308C650 306 670 295 689 273S695 230 709 193S750 115 830 90"/>
<path d="M758 88C720 90 705 120 701 160S680 300 664 360S640 400 618 440C590 540 570 600 559 640S510 820 469 900S350 990 304 1014"/>
<path d="M836 97C790 105 730 160 709 210S690 300 664 360S640 410 626 440C600 540 580 610 571 640S525 820 478 900S360 990 304 1014"/>
<path d="M864 93C895 100 925 130 934 160S950 290 1007 303S1030 310 1044 312"/>
<path d="M924 90C960 90 1000 95 1050 118S1160 175 1211 190S1300 203 1388 204"/>
<path d="M729 140C665 140 620 200 600 233C570 320 560 350 539 440C510 580 490 700 449 900C420 950 350 990 304 1014"/>
<path d="M749 140C810 155 880 170 942 180S1150 200 1280 202S1360 204 1388 204"/>
<path d="M1102 88C1070 92 1060 115 1055 160S1050 300 1024 330S1000 348 977 348"/>
<path d="M1122 88C1090 95 1070 130 1060 185S1050 300 1030 330S1000 348 977 348"/>
<path d="M977 348C1000 348 1060 345 1130 317S1210 250 1232 220S1300 135 1362 110S1440 95 1466 92"/>
<path d="M1209 88C1235 95 1250 110 1270 125S1295 160 1312 183S1350 204 1388 204"/>
<path d="M1321 312C1370 312 1385 260 1395 220S1410 110 1447 100"/>
<path d="M1268 92C1320 90 1360 88 1408 88"/>
<path d="M1251 90C1320 94 1360 96 1408 96"/>
<path d="M304 828C400 822 530 800 612 771S760 710 830 650S920 570 958 514S1000 420 1048 377S1130 267 1170 230S1240 155 1280 135S1370 95 1447 92"/>
<path d="M304 828C400 820 470 812 506 793S590 720 640 660S820 590 889 520S970 420 1007 377S1080 290 1129 230S1220 140 1280 120S1420 95 1466 95"/>
<path d="M304 1014C400 990 500 975 518 967S570 905 575 900C620 800 720 620 781 520S830 420 852 380S950 210 979 177S1080 105 1150 93S1220 90 1231 88"/>
<path d="M304 1014C345 1000 405 930 420 900C470 810 620 650 728 520S800 400 844 310S900 210 946 177S1090 110 1169 90"/>
<path d="M518 92C450 130 425 300 404 460C395 640 390 800 365 900C345 950 330 990 304 1014"/>
<path d="M505 92C460 130 440 300 416 460C405 640 400 800 372 900C350 960 320 1000 304 1014"/>
<path d="M505 135C465 200 445 350 437 460C425 600 400 760 304 828"/>
<path d="M227 112C228 230 215 330 186 440C165 560 152 640 151 708"/>
<path d="M245 112C246 230 235 350 216 440C190 560 160 620 155 708"/>
<path d="M177 88H469M521 88H545M581 88H600M864 88H888M924 88H960M1143 88H1169M1209 88H1231M1268 88H1400M1508 88H1575"/>
<path d="M977 348C1010 360 1030 420 1042 520C1050 620 1052 700 1052 740C1055 840 1058 907 1064 1040C1068 1100 1075 1160 1083 1217S1100 1290 1135 1303"/>
<path d="M151 725V750M151 764V893M151 908V935"/>
<path d="M151 730C130 738 85 735 73 738S66 742 66 747"/>
<path d="M155 730C200 734 310 733 325 738S338 742 338 747"/>
<path d="M155 732C300 736 580 736 600 738S609 742 609 747"/>
<path d="M155 733C400 738 860 737 875 739S881 742 881 747"/>
<path d="M155 733C500 738 1130 737 1145 739S1152 742 1152 747"/>
<path d="M155 733C700 738 1670 735 1688 739S1695.500 742 1695.500 747"/>
<path d="M155 733C700 738 1830 738 1850 741S1857 745 1857 749"/>
<path d="M153 917C190 922 210 920 220 925S228 930 228 933"/>
<path d="M155 918C300 922 470 921 490 925S499 929 499 933"/>
<path d="M155 919C400 923 740 921 762 925S770.500 929 770.500 933"/>
<path d="M155 919C500 923 1010 921 1034 925S1042.500 929 1042.500 933"/>
<path d="M155 919C600 923 1280 921 1305 925S1314 929 1314 933"/>
<path d="M155 919C700 924 1550 922 1577 926S1585 929 1585 933"/>
<path d="M155 919C800 925 1820 923 1848 928S1857 930 1857 933"/>
<path d="M151 1116C160 1104 400 1102 800 1101S1740 1100 1765 1095S1776 1090 1776 1087"/>
<path d="M694 1097C720 1084 900 1081 1200 1080S1760 1078 1815 1063"/>
<path d="M153 760C170 800 220 825 271 828"/>
<path d="M155 758C180 800 250 822 304 828"/>
<path d="M155 758C185 798 300 812 420 818S500 826 556 828"/>
<path d="M155 758C190 795 300 806 440 814S520 826 575 828"/>
<path d="M155 758C195 790 320 800 520 812S760 824 830 828"/>
<path d="M155 757C200 785 330 796 560 815S790 828 846 830"/>
<path d="M155 756C205 780 340 790 600 808S980 826 1099 828"/>
<path d="M155 756C215 775 360 785 700 812S1250 830 1370 832"/>
<path d="M155 756C225 772 380 780 800 814S1520 832 1642 834"/>
<path d="M155 757C200 790 310 830 335 900S338 925 338 933"/>
<path d="M155 757C230 800 560 850 600 900S609 925 609 933"/>
<path d="M304 828C450 825 720 830 803 867S881 900 881 932"/>
<path d="M847 828C950 840 1090 855 1130 880S1152 910 1152 932"/>
<path d="M847 828C1000 830 1200 845 1280 865S1410 890 1424 932"/>
<path d="M847 830C1000 832 1200 832 1280 843S1650 870 1695 932"/>
<path d="M153 940C170 985 220 1010 271 1014"/>
<path d="M155 938C180 985 250 1008 304 1014"/>
<path d="M155 938C185 982 300 996 420 1004S500 1012 556 1014"/>
<path d="M155 938C195 975 320 986 520 998S760 1010 830 1014"/>
<path d="M155 937C200 970 330 982 560 1001S790 1014 846 1016"/>
<path d="M155 936C205 965 340 976 600 994S980 1012 1099 1014"/>
<path d="M155 936C215 960 360 970 700 998S1250 1016 1370 1018"/>
<path d="M155 936C225 956 380 966 800 1000S1520 1024 1642 1030"/>
<path d="M151 763C130 800 75 840 67 900L66 933"/>
<path d="M151 773C140 830 130 870 120 900C90 950 68 990 66 1118"/>
<path d="M153 950C155 990 184 1005 205 1030S228 1090 228 1120"/>
<path d="M151 773C155 820 175 870 205 900S310 990 327 1010S338 1080 338 1118"/>
<path d="M304 1014C380 1020 450 1030 475 1050S499 1090 499 1120"/>
<path d="M567 1014C590 1040 605 1080 609 1118"/>
<path d="M304 1016C400 1030 640 1020 722 1060S770 1100 770.500 1120"/>
<path d="M830 1014C860 1040 880 1080 881 1118"/>
<path d="M847 1014C960 1040 1040 1070 1042 1120"/>
<path d="M1109 1014C1135 1040 1150 1080 1152 1118"/>
<path d="M847 1016C1000 1030 1200 1050 1280 1078S1312 1095 1314 1120"/>
<path d="M245 795C245 840 225 860 171 870S155 885 153 893"/>
<path d="M517 795C510 850 400 865 250 868S165 880 155 893"/>
<path d="M788 795C770 825 720 850 640 863S300 870 160 893"/>
<path d="M1059 795C1020 835 900 855 640 866S300 875 160 893"/>
<path d="M1331 795C1320 820 1300 828 1260 840S700 860 160 893"/>
<path d="M1602 795C1580 830 1400 850 1280 853S600 870 160 893"/>
<path d="M1238 854C900 850 500 870 160 893"/>
<path d="M966 883C880 880 800 860 721 847S650 835 575 828"/>
<path d="M570 965C610 945 630 930 640 923S690 885 701 873S770 830 787 795"/>
<path d="M160 893C300 870 500 872 695 883"/>
<path d="M170 833C210 832 250 829 286 828"/>
<path d="M527 883C541 875 541 860 541 850S545 830 556 828"/>
<path d="M676 842C700 842 720 840 760 835S830 830 847 828"/>
<path d="M1070 883C1083 875 1087 860 1087 845S1090 830 1099 828"/>
<path d="M1242 816C1270 816 1290 820 1305 825S1340 828 1370 828"/>
<path d="M1613 854C1627 850 1631 842 1631 835S1635 828 1642 828"/>
<path d="M229 1024C245 1024 253 1023 261 1015L271 1014"/>
<path d="M527 1069C541 1062 543 1045 543 1030S548 1014 556 1014"/>
<path d="M716 1012C750 1012 780 1014 813 1014"/>
<path d="M1070 1069C1083 1062 1087 1045 1087 1030S1090 1014 1099 1014"/>
<path d="M1259 1017C1290 1017 1320 1014 1370 1014"/>
<path d="M1613 1069C1627 1062 1631 1050 1631 1040S1635 1025 1642 1025"/>
<path d="M1509 1069C1400 1069 1340 1068 1280 1060S1048 1033 848 1022"/>
<path d="M256 1274C300 1274 327 1270 350 1260S440 1218 490 1213S520 1211 542 1211"/>
<path d="M290 1211C320 1212 340 1218 352 1233S358 1262 385 1270S410 1274 423 1274"/>
<path d="M290 1211C330 1211 370 1213 408 1215"/>
<path d="M427 1221C470 1225 530 1240 640 1270S700 1300 834 1313S930 1317 966 1317"/>
<path d="M527 1274C570 1274 610 1270 640 1263S712 1240 760 1236S800 1234 827 1234"/>
<path d="M575 1211C600 1212 615 1220 624 1247S650 1270 693 1274"/>
<path d="M799 1274C812 1268 815 1255 815 1245S820 1234 827 1234"/>
<path d="M1070 1317C1085 1312 1087 1290 1087 1265S1090 1232 1099 1232"/>
</g>
</svg>
